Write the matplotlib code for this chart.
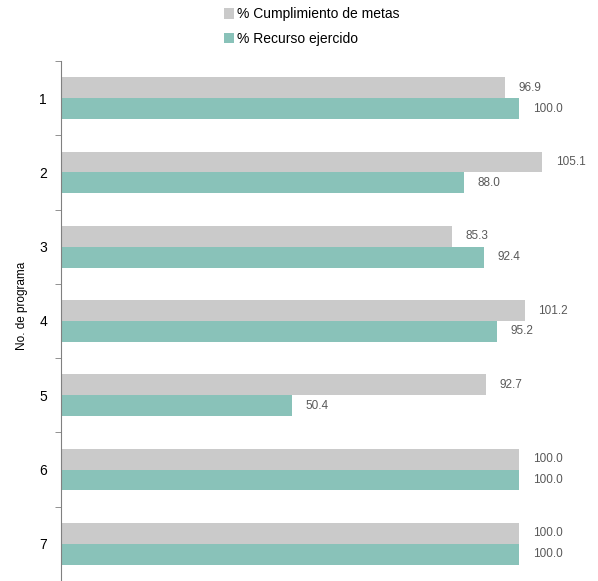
import matplotlib.pyplot as plt
import numpy as np

plt.rcParams['font.family'] = ['Liberation Sans', 'DejaVu Sans']

programas = ['1', '2', '3', '4', '5', '6', '7']
cumplimiento = [96.9, 105.1, 85.3, 101.2, 92.7, 100.0, 100.0]
recurso = [100.0, 88.0, 92.4, 95.2, 50.4, 100.0, 100.0]

gris = '#CACACA'
verde = '#89C2B9'

fig = plt.figure(figsize=(5.98, 5.81), dpi=100)
ax = fig.add_axes([61/598, 0.0, 529/598, 520/581])

y = np.arange(len(programas))
h = 0.28
b1 = ax.barh(y - h/2, cumplimiento, height=h, color=gris, label='% Cumplimiento de metas')
b2 = ax.barh(y + h/2, recurso, height=h, color=verde, label='% Recurso ejercido')

for bars, vals in [(b1, cumplimiento), (b2, recurso)]:
    for bar, v in zip(bars, vals):
        ax.text(v + 3, bar.get_y() + bar.get_height()/2, f'{v:.1f}',
                va='center', ha='left', fontsize=8.5, color='#595959')

ax.set_ylim(len(programas) - 0.5, -0.5)
ax.set_xlim(0, 115.5)
ax.set_yticks(y)
ax.set_yticklabels(programas, fontsize=10)
ax.set_yticks(np.arange(-0.5, len(programas)), minor=True)
ax.tick_params(axis='y', which='major', length=0, pad=10)
ax.tick_params(axis='y', which='minor', length=4, color='#808080', direction='out')
ax.set_xticks([])
for s in ['top', 'right', 'bottom']:
    ax.spines[s].set_visible(False)
ax.spines['left'].set_color('#808080')
ax.set_ylabel('No. de programa', fontsize=8.5)
ax.yaxis.set_label_coords(-0.063, 0.53)

fig.legend(handles=[b1, b2], loc='upper left', bbox_to_anchor=(211/598, 1.009),
           frameon=False, fontsize=10, handlelength=0.75, handleheight=0.75,
           handletextpad=0.2, labelspacing=0.75)

fig.savefig('out.png', dpi=100)
